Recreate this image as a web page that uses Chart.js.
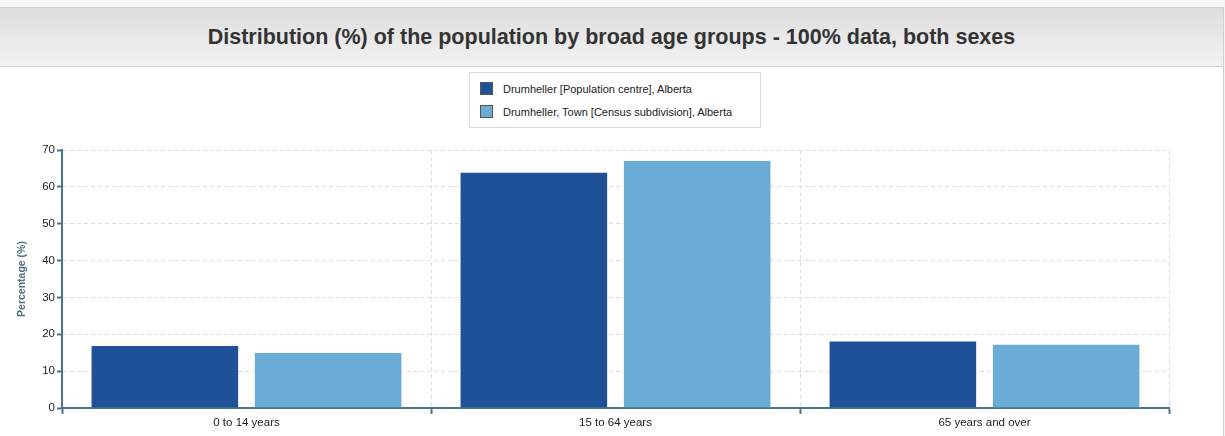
<!DOCTYPE html>
<html>
<head>
<meta charset="utf-8">
<script src="https://cdn.jsdelivr.net/npm/chart.js@4"></script>
<style>
  body { margin: 0; background: #f5f5f5; font-family: "Liberation Sans", Arial, sans-serif; }
  #panel { position: absolute; left: -1px; top: 7px; width: 1223px; height: 440px; background: #fff; border: 1px solid #cfcfcf; }
  #header { height: 58px; border-bottom: 1px solid #cfcfcf; background: linear-gradient(#dedede, #f2f2f2);
    display: flex; align-items: center; justify-content: center; }
  #header h1 { margin: 0; font-size: 21.5px; font-weight: bold; color: #333; }
  #legend { position: absolute; left: 469px; top: 72px; width: 290px; height: 54px; border: 1px solid #dcdcdc; background: #fff; }
  .item { position: absolute; left: 10px; font-size: 11px; color: #222; line-height: 14px; }
  .item span { display: inline-block; width: 11px; height: 11px; border: 1px solid #555; vertical-align: -2px; margin-right: 10px; }
  #wrap { position: absolute; left: 0; top: 140px; width: 1225px; height: 296px; }
</style>
</head>
<body>
<div id="panel"><div id="header"><h1>Distribution (%) of the population by broad age groups - 100% data, both sexes</h1></div></div>
<div id="legend"></div>
<div id="wrap"><canvas id="chart"></canvas></div>
<script>
const categories = ["0 to 14 years", "15 to 64 years", "65 years and over"];
const seriesNames = ["Drumheller [Population centre], Alberta", "Drumheller, Town [Census subdivision], Alberta"];
const populationCentre = [17.1, 64.1, 18.3];
const censusSubdivision = [15.2, 67.3, 17.4];
const colors = ["#1f5199", "#6aacd6"];
const axisColor = "#4a7487";

// legend en HTML
const legend = document.getElementById("legend");
seriesNames.forEach((name, i) => {
  const div = document.createElement("div");
  div.className = "item";
  div.style.top = (9 + i * 23) + "px";
  div.innerHTML = `<span style="background:${colors[i]}"></span>${name}`;
  legend.appendChild(div);
});

new Chart(document.getElementById("chart"), {
  type: "bar",
  data: {
    labels: categories,
    datasets: [
      { label: seriesNames[0], data: populationCentre, backgroundColor: colors[0], borderColor: "rgba(255,255,255,0.3)", borderWidth: 1 },
      { label: seriesNames[1], data: censusSubdivision, backgroundColor: colors[1], borderColor: "rgba(255,255,255,0.3)", borderWidth: 1 }
    ]
  },
  options: {
    responsive: true,
    maintainAspectRatio: false,
    animation: false,
    categoryPercentage: 0.885,
    barPercentage: 0.91,
    layout: { padding: { top: 10, right: 56, left: 0, bottom: 0 } },
    scales: {
      x: {
        grid: { color: "#dddddd", tickColor: axisColor, tickWidth: 2, tickLength: 6, offset: true },
        border: { color: axisColor, width: 2, dash: [4, 3] },
        ticks: { color: "#222", font: { size: 11.5, family: "Liberation Sans" }, padding: 2 },
        afterFit: s => { s.height = 28; }
      },
      y: {
        min: 0, max: 70,
        ticks: { stepSize: 10, color: "#222", font: { size: 11.5, family: "Liberation Sans" }, padding: 2 },
        grid: { color: "#dddddd", tickColor: axisColor, tickWidth: 2, tickLength: 5 },
        border: { color: axisColor, width: 2, dash: [4, 3] },
        title: { display: true, text: "Percentage (%)", color: "#4e6f82", font: { size: 10.5, weight: "bold", family: "Liberation Sans" }, padding: { top: 16, bottom: 0 } },
        afterFit: s => { s.width = 62; }
      }
    },
    plugins: {
      legend: { display: false },
      tooltip: { mode: "index", intersect: false }
    }
  }
});
</script>
</body>
</html>
